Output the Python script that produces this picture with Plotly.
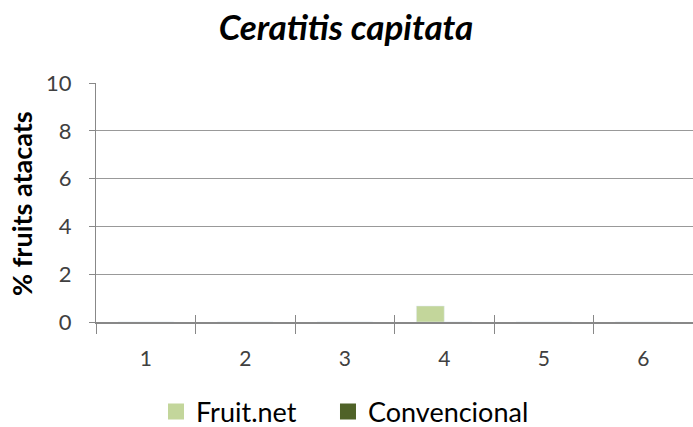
import plotly.graph_objects as go

categories = ["1", "2", "3", "4", "5", "6"]
fruitnet = [0, 0, 0, 0.67, 0, 0]
convencional = [0, 0, 0, 0, 0, 0]
y_ticks = [0, 2, 4, 6, 8, 10]
series_names = ["Fruit.net", "Convencional"]
colors = ["#c3d69b", "#4f6228"]

font = "Lato, Open Sans, sans-serif"
W, H = 693, 427
fig = go.Figure()
for name, vals, col in zip(series_names, [fruitnet, convencional], colors):
    fig.add_trace(go.Bar(x=categories, y=vals, name=name, marker_color=col, showlegend=False))
# helper trace so the overlay axis (inner half of crossing ticks) has the categories
fig.add_trace(go.Scatter(x=categories, y=[None] * len(categories), xaxis="x2",
                         showlegend=False, hoverinfo="skip"))
for name, col, lg in zip(series_names, colors, ["legend", "legend2"]):
    fig.add_trace(go.Scatter(x=[None], y=[None], mode="markers", name=name, legend=lg,
                             marker=dict(symbol="square", size=16, color=col)))

legend_style = dict(orientation="h", xanchor="left", y=(322 - 412) / 239, yanchor="middle",
                    font=dict(size=27, color="black"), bgcolor="rgba(0,0,0,0)")

fig.update_layout(
    width=W, height=H,
    paper_bgcolor="white", plot_bgcolor="white",
    margin=dict(l=96, r=0, t=83, b=105, autoexpand=False),
    barmode="group", bargap=0.44, bargroupgap=0,
    title=dict(text="<b><i>Ceratitis capitata</i></b>", x=346 / W, xanchor="center",
               xref="container", y=1 - 28 / H, yanchor="middle",
               font=dict(family=font, size=35, color="black")),
    font=dict(family=font, color="#404040"),
    legend=dict(x=0.1005, **legend_style),
    legend2=dict(x=0.3886, **legend_style),
    xaxis=dict(type="category", tickson="boundaries", ticks="outside", ticklen=10,
               tickcolor="#888888", showline=True, linecolor="#888888", linewidth=1.5,
               tickfont=dict(size=21, color="#404040"), showgrid=False, ticklabelstandoff=17),
    xaxis2=dict(type="category", matches="x", overlaying="x", side="bottom",
                tickson="boundaries", ticks="inside", ticklen=7, tickcolor="#888888",
                showticklabels=False, showgrid=False, showline=False),
    yaxis=dict(range=[0, 10], tickvals=y_ticks, ticks="outside", ticklen=6,
               tickcolor="#888888", showline=True, linecolor="#888888",
               gridcolor="#999999", gridwidth=1, zeroline=False,
               tickfont=dict(size=22, color="#404040"), ticklabelstandoff=13),
    annotations=[dict(text="<b>% fruits atacats</b>", xref="paper", yref="paper",
                      x=(21 - 96) / 597, y=(322 - 204) / 239, xanchor="center", yanchor="middle",
                      textangle=-90, showarrow=False,
                      font=dict(family=font, size=27, color="black"))],
)
fig.write_html("out.html", config={"displayModeBar": False},
               post_script="document.body.style.margin='0px';")
